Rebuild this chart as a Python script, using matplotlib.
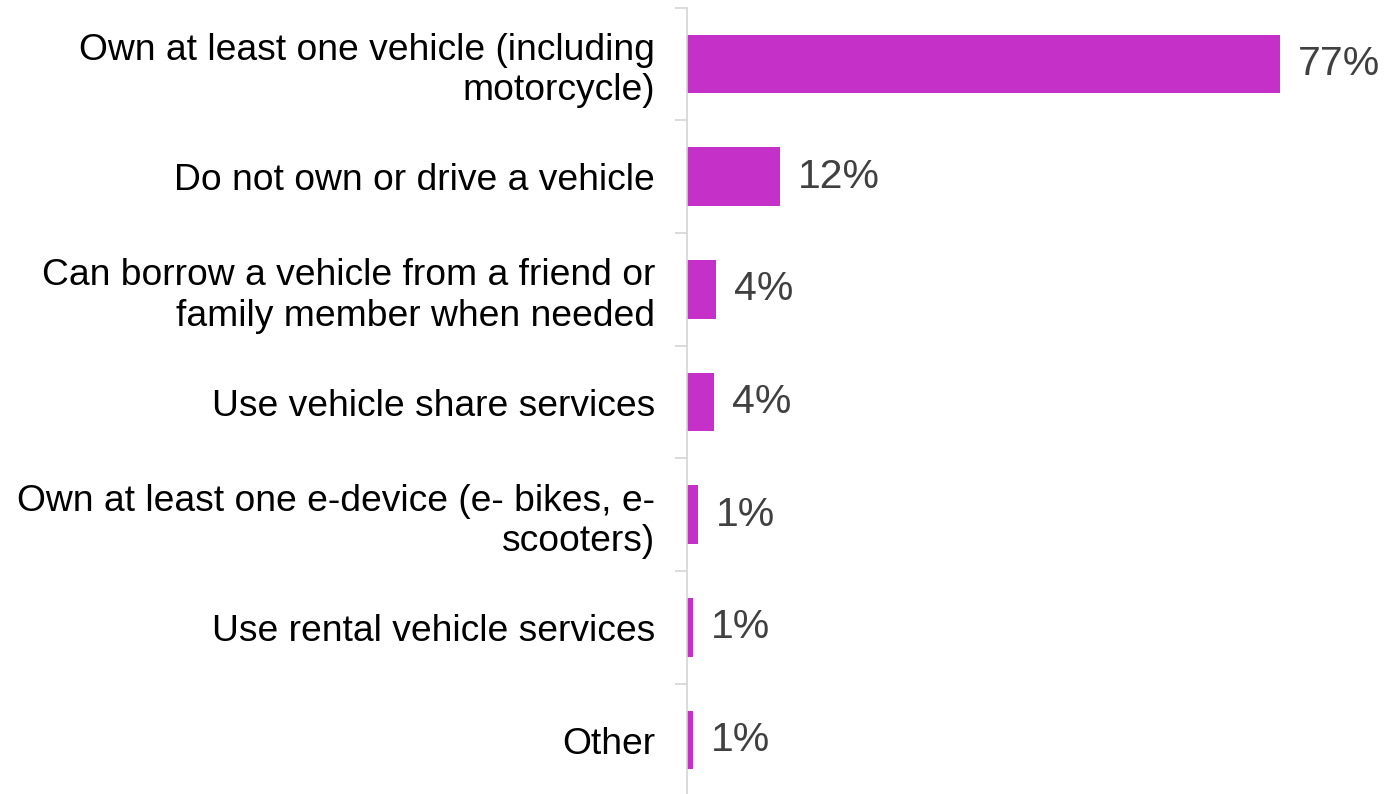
import matplotlib.pyplot as plt

categories = [
    "Own at least one vehicle (including\nmotorcycle)",
    "Do not own or drive a vehicle",
    "Can borrow a vehicle from a friend or\nfamily member when needed",
    "Use vehicle share services",
    "Own at least one e-device (e- bikes, e-\nscooters)",
    "Use rental vehicle services",
    "Other",
]
values = [77.0, 12.1, 3.8, 3.5, 1.4, 0.8, 0.8]
value_labels = ["77%", "12%", "4%", "4%", "1%", "1%", "1%"]

plt.rcParams['font.family'] = ['Liberation Sans', 'DejaVu Sans']

fig = plt.figure(figsize=(13.84, 7.94), dpi=100)
ax = fig.add_axes([687 / 1384, -2.4 / 794, 697 / 1384, 788.8 / 794])

ypos = list(range(len(categories)))
bars = ax.barh(ypos, values, height=0.52, color='#C430C8')

for bar, lab in zip(bars, value_labels):
    ax.annotate(lab, (bar.get_width(), bar.get_y() + bar.get_height() / 2),
                xytext=(13, 0), textcoords='offset points',
                va='center', ha='left', fontsize=29.5, color='#404040')

ax.set_xlim(0, 90.5)
ax.set_ylim(len(categories) - 0.5, -0.5)
ax.set_yticks(ypos)
ax.set_yticklabels(categories, fontsize=26.8, color='black', linespacing=1.2)
ax.set_yticks([i - 0.5 for i in range(len(categories) + 1)], minor=True)
ax.tick_params(axis='y', which='major', length=0, pad=23)
ax.tick_params(axis='y', which='minor', length=8.6, width=1.2, color='#D4D4D4')
ax.set_xticks([])

for s in ['top', 'right', 'bottom']:
    ax.spines[s].set_visible(False)
ax.spines['left'].set_color('#D4D4D4')
ax.spines['left'].set_linewidth(1.2)

fig.savefig('out.png', dpi=100)
